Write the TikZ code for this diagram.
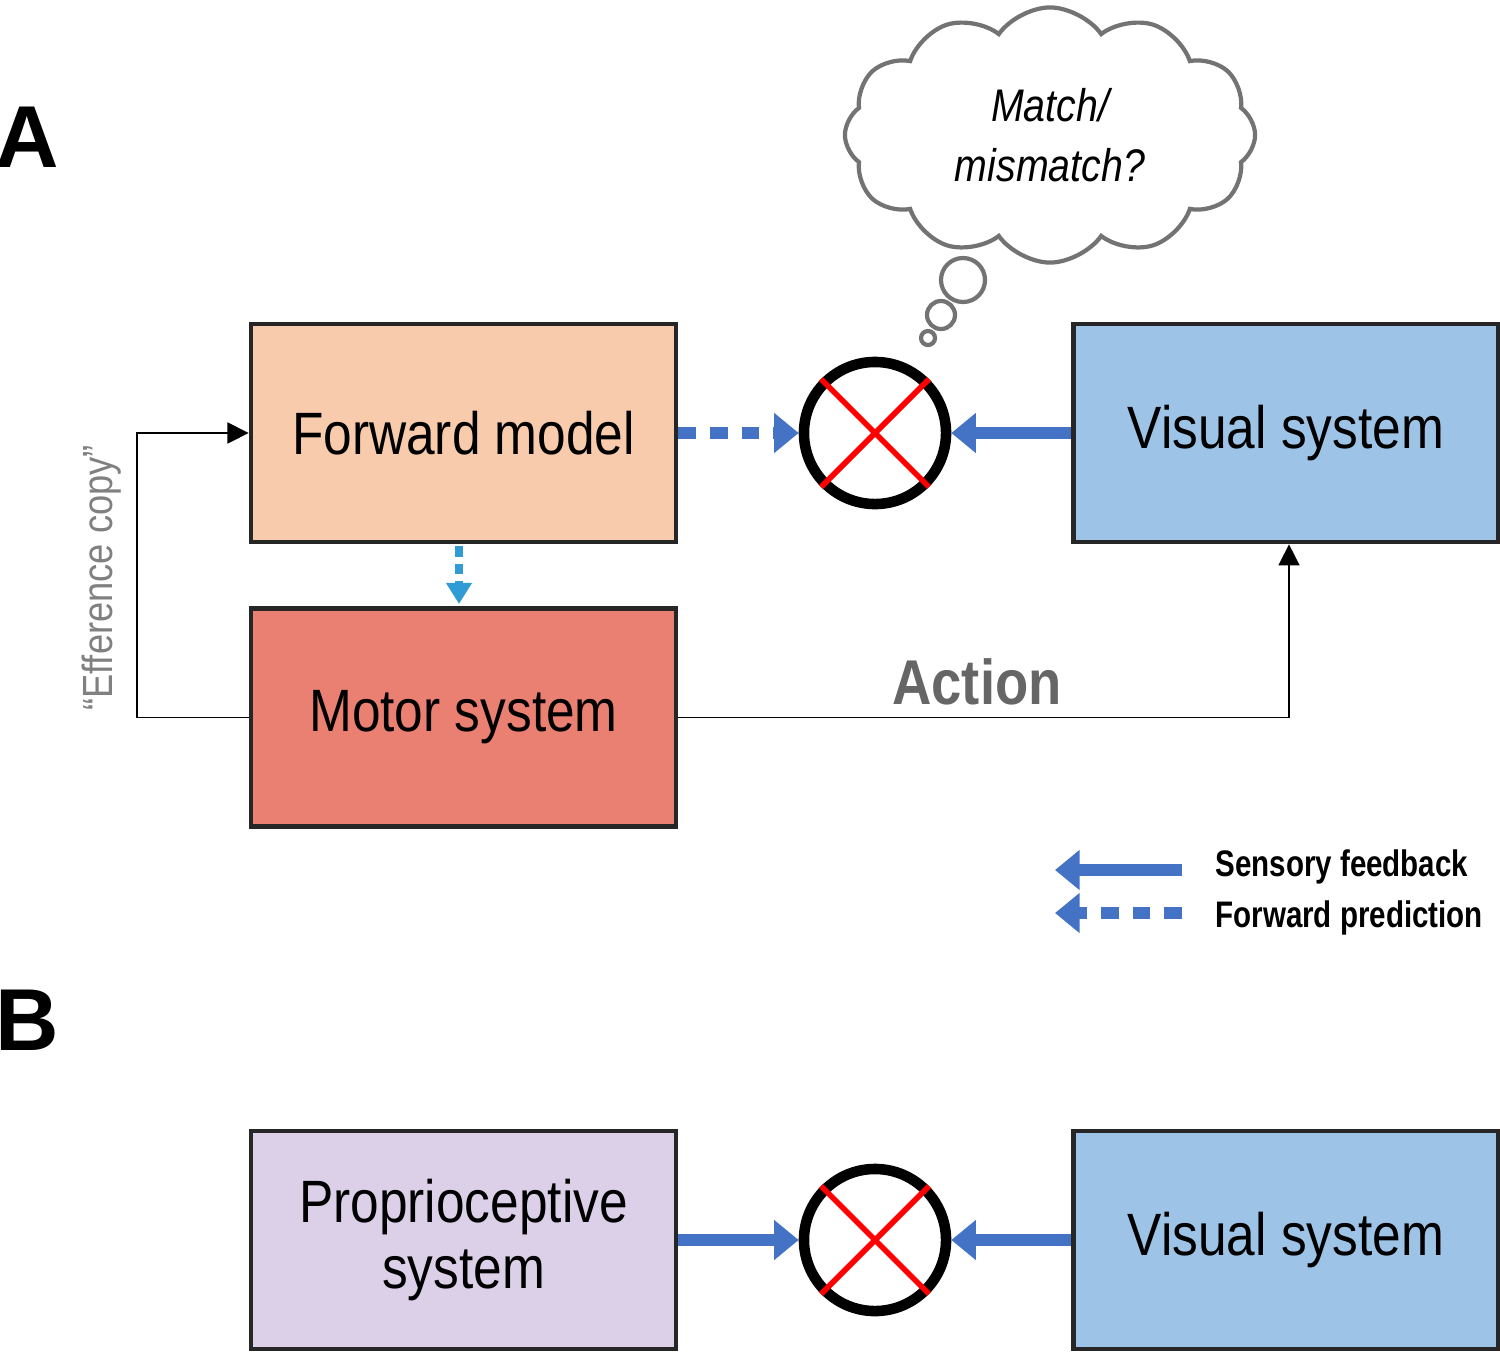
\documentclass[tikz,border=0pt]{standalone}
\usepackage{fontspec}
\setmainfont{Liberation Sans}
\usetikzlibrary{positioning, arrows.meta, shapes.symbols}
\definecolor{peach}{HTML}{F7CBAB}
\definecolor{salmon}{HTML}{EA8072}
\definecolor{skyblue}{HTML}{9DC3E6}
\definecolor{lilac}{HTML}{DCD0E8}
\definecolor{arrblue}{HTML}{4472C4}
\newcommand{\nar}[1]{\scalebox{0.86}[1]{#1}}
\tikzset{
  sysbox/.style={draw=black!85, line width=1.3pt, minimum width=4.25cm, minimum height=2.18cm, inner sep=0pt, align=center, font=\fontsize{17}{21}\selectfont},
  comp/.style={circle, draw=black, line width=3pt, minimum size=1.42cm, inner sep=0pt},
  feed/.style={arrblue, line width=3.5pt, -{Triangle[length=7pt,width=11pt]}},
  pred/.style={arrblue, line width=3.5pt, dash pattern=on 5pt off 4pt, -{Triangle[length=7pt,width=11pt]}}
}
\newcommand{\redcross}[1]{%
  \draw[red, line width=1.6pt] (#1.north west) -- (#1.south east);
  \draw[red, line width=1.6pt] (#1.north east) -- (#1.south west);}
\begin{document}
\begin{tikzpicture}[x=0.01cm, y=-0.01cm]
  \useasboundingbox (0,0) rectangle (1500,1351);
  % panel letters
  \node[font=\fontsize{25}{25}\selectfont\bfseries] (lblA) at (27,137) {A};
  \node[font=\fontsize{25}{25}\selectfont\bfseries] (lblB) at (27,1020) {B};
  % panel A boxes
  \node[sysbox, fill=peach] (fwd) at (463.5,433) {\nar{Forward model}};
  \node[sysbox, fill=salmon] (motor) at (463.5,717.5) {\nar{Motor system}};
  \node[sysbox, fill=skyblue] (visA) at (1286,433) {\nar{Visual system}};
  \node[comp] (cmpA) at (875,433) {};
  \redcross{cmpA}
  % thought cloud
  \node[cloud, cloud puffs=12, cloud puff arc=110, aspect=1.6, draw=black!55, line width=1.2pt,
        minimum width=4.1cm, minimum height=2.55cm, align=center,
        font=\fontsize{13}{17}\selectfont\itshape] (thought) at (1050,135) {\nar{Match/}\\\nar{mismatch?}};
  \draw[black!55, line width=1.2pt] (963,280) circle (22);
  \draw[black!55, line width=1.2pt] (941,315) circle (14);
  \draw[black!55, line width=1.2pt] (928,338) circle (7);
  % connectors
  \draw[pred] (fwd.east) -- (cmpA.west);
  \draw[feed] (visA.west) -- (cmpA.east);
  \coordinate (pd1) at (459,546);
  \coordinate (pd2) at (459,604);
  \draw[arrblue!70!cyan, line width=2pt, dash pattern=on 3pt off 2pt, -{Triangle[length=6pt,width=7pt]}] (pd1) -- (pd2);
  \coordinate (effB) at (137,717.5);
  \coordinate (effT) at (137,433);
  \draw[-{Triangle[length=6pt,width=6pt]}] (motor.west) -- (effB) -- (effT) -- (fwd.west);
  \node[rotate=90, text=black!50, font=\fontsize{12}{14}\selectfont] (effc) at (102,578) {\nar{“Efference copy”}};
  \coordinate (actC) at (1289,717.5);
  \draw[-{Triangle[length=6pt,width=6pt]}] (motor.east) -- (actC) -- (actC |- visA.south);
  \node[text=black!60, font=\fontsize{18}{20}\selectfont\bfseries] (act) at (977,682) {\nar{Action}};
  % legend
  \coordinate (lf1) at (1182,870);
  \coordinate (lt1) at (1055,870);
  \coordinate (lf2) at (1182,913);
  \coordinate (lt2) at (1055,913);
  \draw[feed] (lf1) -- (lt1);
  \draw[pred] (lf2) -- (lt2);
  \node[anchor=west, font=\fontsize{10.5}{13}\selectfont\bfseries] (leg1) at (1203,867) {\scalebox{0.8}[1]{Sensory feedback}};
  \node[anchor=west, font=\fontsize{10.5}{13}\selectfont\bfseries] (leg2) at (1203,918) {\scalebox{0.8}[1]{Forward prediction}};
  % panel B
  \node[sysbox, fill=lilac] (prop) at (463.5,1240) {\nar{Proprioceptive}\\[-2pt]\nar{system}};
  \node[sysbox, fill=skyblue] (visB) at (1286,1240) {\nar{Visual system}};
  \node[comp] (cmpB) at (875,1240) {};
  \redcross{cmpB}
  \draw[feed] (prop.east) -- (cmpB.west);
  \draw[feed] (visB.west) -- (cmpB.east);
\end{tikzpicture}
\end{document}
